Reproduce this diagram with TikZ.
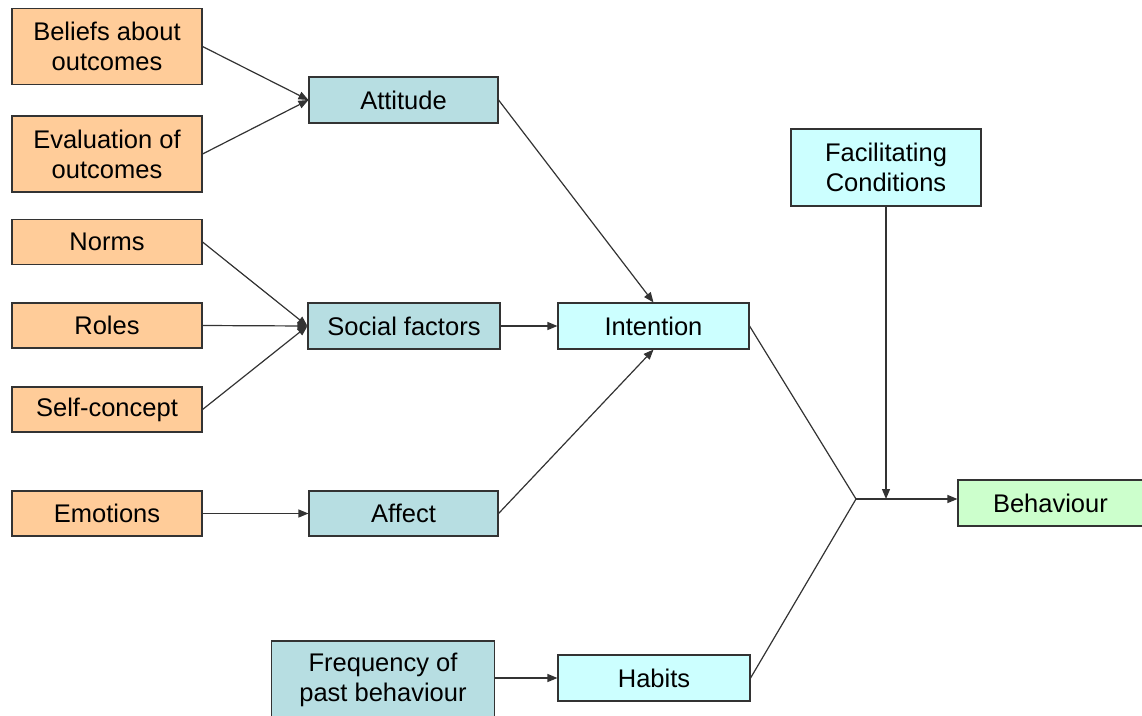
\documentclass[tikz,border=0pt]{standalone}
\usepackage{fontspec}
\setmainfont{Liberation Sans}
\usetikzlibrary{arrows.meta}
\definecolor{orangebox}{HTML}{FFCC99}
\definecolor{tealbox}{HTML}{B7DEE2}
\definecolor{cyanbox}{HTML}{CCFFFF}
\definecolor{greenbox}{HTML}{CCFFCC}
\definecolor{edge}{HTML}{333333}
\tikzset{
  box/.style={draw=edge, line width=1.1pt, inner sep=0pt, align=center,
    font=\fontsize{25.5}{30}\selectfont, text=black},
  obox/.style={box, fill=orangebox, minimum width=190pt},
  tbox/.style={box, fill=tealbox},
  cbox/.style={box, fill=cyanbox},
  gbox/.style={box, fill=greenbox},
  conn/.style={draw=edge, line width=1.2pt},
  arr/.style={conn, -{Triangle[length=10pt,width=8pt]}},
}
\begin{document}
\begin{tikzpicture}[x=1pt,y=-1pt]
\useasboundingbox (0,0) rectangle (1142,715);
\clip (0,0) rectangle (1142,715);
% orange inputs
\node[obox, minimum height=76pt] (bel) at (107,46.5) {Beliefs about\\outcomes};
\node[obox, minimum height=76pt] (eva) at (107,154) {Evaluation of\\outcomes};
\node[obox, minimum height=45pt] (nor) at (107,242) {Norms};
\node[obox, minimum height=45pt] (rol) at (107,325.5) {Roles};
\node[obox, minimum height=45pt] (slf) at (107,409.5) {Self-concept};
\node[obox, minimum height=45pt] (emo) at (107,513.5) {Emotions};
% teal middle
\node[tbox, minimum width=189pt, minimum height=46pt] (att) at (403.5,100) {Attitude};
\node[tbox, minimum width=192pt, minimum height=46pt] (soc) at (404,326) {Social factors};
\node[tbox, minimum width=189pt, minimum height=45pt] (aff) at (403.5,513.5) {Affect};
\node[tbox, minimum width=223pt, minimum height=78pt] (frq) at (383,680) {Frequency of\\past behaviour};
% cyan
\node[cbox, minimum width=191pt, minimum height=46pt] (int) at (653.5,326) {Intention};
\node[cbox, minimum width=192pt, minimum height=46pt] (hab) at (654,678) {Habits};
\node[cbox, minimum width=190pt, minimum height=77pt] (fac) at (886,167.5) {Facilitating\\Conditions};
% green
\node[gbox, minimum width=186pt, minimum height=46pt, text width=170pt, align=left] (beh) at (1051,503) {\hspace*{27pt}Behaviour};
% junction
\coordinate (jn) at (856,499);
% connectors
\draw[arr] (bel.east) -- (att.west);
\draw[arr] (eva.east) -- (att.west);
\draw[arr] (nor.east) -- (soc.west);
\draw[arr] (rol.east) -- (soc.west);
\draw[arr] (slf.east) -- (soc.west);
\draw[arr] (emo.east) -- (aff.west);
\draw[arr] (att.east) -- (int.north);
\draw[arr] (soc.east) -- (int.west);
\draw[arr] (aff.east) -- (int.south);
\draw[arr] (hab.west -| frq.east) -- (hab.west);
\draw[conn] (int.east) -- (jn);
\draw[conn] (hab.east) -- (jn);
\draw[arr] (jn) -- (jn -| beh.west);
\draw[arr] (fac.south) -- (fac.south |- jn);
\end{tikzpicture}
\end{document}
